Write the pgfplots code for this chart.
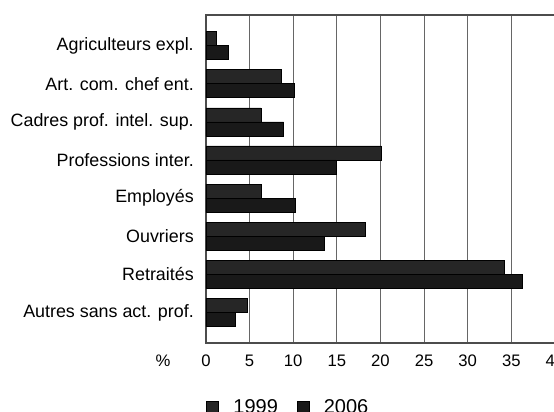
\documentclass[border=0pt]{standalone}
\usepackage{fontspec}
\setmainfont{Liberation Sans}
\usepackage{pgfplots}
\pgfplotsset{compat=1.18}
\begin{document}
\begin{tikzpicture}
\begin{axis}[
  name=ax,
  scale only axis,
  width=261.75pt, height=246pt,
  xbar=0pt, bar width=10.5pt,
  xmin=0, xmax=40, ymin=-0.8, ymax=7.8,
  y dir=reverse,
  xtick={0,5,...,40},
  ytick={0,...,7},
  yticklabels={Agriculteurs expl., Art. com. chef ent., Cadres prof. intel. sup., Professions inter., Employés, Ouvriers, Retraités, Autres sans act. prof.},
  major tick length=0pt,
  xmajorgrids, grid style={black!60, line width=0.8pt},
  axis line style={black!70, line width=0.8pt},
  tick label style={font=\fontsize{12.5}{14}\selectfont},
  /pgf/number format/assume math mode=true,
  yticklabel style={inner sep=0pt, xshift=-9pt, font=\fontsize{13.4}{15}\selectfont},
  xticklabel style={inner sep=0pt, yshift=-9pt},
  xlabel={\%}, xlabel style={at={(axis description cs:-0.123,0)}, anchor=north, inner sep=0pt, yshift=-9pt, font=\fontsize{12.5}{14}\selectfont},
  legend style={draw=none, fill=none, at={(axis description cs:0,-0.163)}, anchor=north west, legend columns=2, font=\fontsize{15}{17}\selectfont, inner sep=0pt,
    /tikz/every odd column/.append style={column sep=9pt},
    /tikz/every even column/.append style={column sep=12pt}},
  legend image code/.code={\draw[#1] (0pt,-4.5pt) rectangle (9pt,4.5pt);},
]
\addplot[fill=black!85, draw=black, bar shift=5.25pt] coordinates {(1.2,0) (8.6,1) (6.3,2) (20.1,3) (6.3,4) (18.2,5) (34.2,6) (4.7,7)};
\addplot[fill=black!90, draw=black, bar shift=-5.25pt] coordinates {(2.5,0) (10.1,1) (8.9,2) (14.9,3) (10.2,4) (13.5,5) (36.3,6) (3.4,7)};
\legend{1999, 2006}
\end{axis}
\pgfresetboundingbox
\path[use as bounding box] ([xshift=-154.5pt, yshift=-51.75pt]ax.south west) rectangle ([xshift=-0.75pt, yshift=11.25pt]ax.north east);
\end{tikzpicture}
\end{document}
